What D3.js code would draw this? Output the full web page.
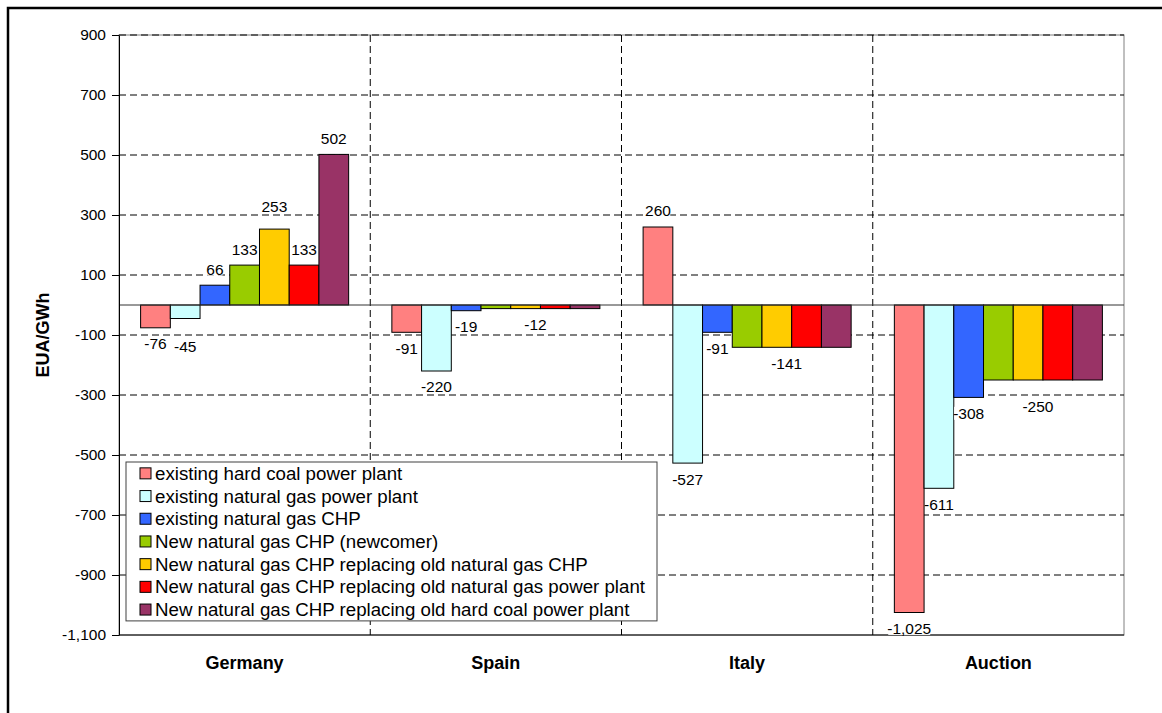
<!DOCTYPE html>
<html lang="en">
<head>
    <meta charset="UTF-8">
    <title>EUA/GWh by technology</title>
    <script src="https://d3js.org/d3.v7.min.js"></script>
    <style>
        body { margin: 0; background: #fff; }
        svg text { font-family: Arial, "Liberation Sans", sans-serif; fill: #000; }
    </style>
</head>
<body>
    <div id="chart"></div>

    <script>
        // chart data
        const categories = ["Germany", "Spain", "Italy", "Auction"];
        const seriesNames = [
            "existing hard coal power plant",
            "existing natural gas power plant",
            "existing natural gas CHP",
            "New natural gas CHP (newcomer)",
            "New natural gas CHP replacing old natural gas CHP",
            "New natural gas CHP replacing old natural gas power plant",
            "New natural gas CHP replacing old hard coal power plant"
        ];
        const seriesColors = ["#FF8080", "#CCFFFF", "#3366FF", "#99CC00", "#FFCC00", "#FF0000", "#993366"];
        const germanyValues = [-76, -45, 66, 133, 253, 133, 502];
        const spainValues = [-91, -220, -19, -12, -12, -12, -12];
        const italyValues = [260, -527, -91, -141, -141, -141, -141];
        const auctionValues = [-1025, -611, -308, -250, -250, -250, -250];
        const yTicks = [900, 700, 500, 300, 100, -100, -300, -500, -700, -900, -1100];

        const valuesByCategory = [germanyValues, spainValues, italyValues, auctionValues];

        const width = 1162, height = 713;
        const plot = { left: 119, right: 1124, top: 35, bottom: 635 };

        const fmt = d3.formatLocale({ decimal: ".", thousands: ",", grouping: [3], currency: ["", ""], minus: "-" }).format(",");

        const svg = d3.select("#chart")
            .append("svg")
            .attr("width", width)
            .attr("height", height);

        // outer frame (right/bottom edges run off the picture)
        svg.append("rect")
            .attr("x", 8).attr("y", 8)
            .attr("width", width + 20).attr("height", height + 20)
            .attr("fill", "none")
            .attr("stroke", "#000")
            .attr("stroke-width", 2.5);

        const x0 = d3.scaleBand().domain(categories).range([plot.left, plot.right]).padding(0);
        const gap = x0.bandwidth() * 0.086;
        const x1 = d3.scaleBand().domain(d3.range(seriesNames.length)).range([gap, x0.bandwidth() - gap]).padding(0);
        const y = d3.scaleLinear().domain([-1100, 900]).range([plot.bottom, plot.top]);

        // plot area border
        svg.append("rect")
            .attr("x", plot.left).attr("y", plot.top)
            .attr("width", plot.right - plot.left).attr("height", plot.bottom - plot.top)
            .attr("fill", "none")
            .attr("stroke", "#808080");

        // horizontal gridlines
        svg.append("g")
            .selectAll("line")
            .data(yTicks.filter(t => t !== -1100))
            .enter()
            .append("line")
            .attr("x1", plot.left).attr("x2", plot.right)
            .attr("y1", d => y(d)).attr("y2", d => y(d))
            .attr("stroke", "#000")
            .attr("stroke-dasharray", "7,4");

        // vertical category dividers
        svg.append("g")
            .selectAll("line")
            .data(categories.slice(1))
            .enter()
            .append("line")
            .attr("x1", d => x0(d)).attr("x2", d => x0(d))
            .attr("y1", plot.top).attr("y2", plot.bottom)
            .attr("stroke", "#000")
            .attr("stroke-dasharray", "7,4");

        // bars
        const groups = svg.append("g")
            .selectAll("g")
            .data(categories)
            .enter()
            .append("g")
            .attr("transform", d => `translate(${x0(d)},0)`);

        groups.selectAll("rect")
            .data((d, i) => valuesByCategory[i].map((v, j) => ({ v, j })))
            .enter()
            .append("rect")
            .attr("x", d => x1(d.j))
            .attr("width", x1.bandwidth())
            .attr("y", d => y(Math.max(0, d.v)))
            .attr("height", d => Math.abs(y(d.v) - y(0)))
            .attr("fill", d => seriesColors[d.j])
            .attr("stroke", "#000")
            .attr("stroke-width", 1);

        // zero line
        svg.append("line")
            .attr("x1", plot.left).attr("x2", plot.right)
            .attr("y1", y(0)).attr("y2", y(0))
            .attr("stroke", "#333");

        // axes
        const yAxis = svg.append("g")
            .attr("transform", `translate(${plot.left},0)`)
            .call(d3.axisLeft(y).tickValues(yTicks).tickFormat(fmt).tickSize(7).tickSizeOuter(0).tickPadding(6));
        yAxis.select(".domain").attr("stroke", "#000");
        yAxis.selectAll(".tick line").attr("stroke", "#000");
        yAxis.selectAll("text")
            .style("font-size", "15.5px")
            .style("font-family", "Arial, 'Liberation Sans', sans-serif");

        svg.append("line")
            .attr("x1", plot.left).attr("x2", plot.right)
            .attr("y1", plot.bottom).attr("y2", plot.bottom)
            .attr("stroke", "#000");

        svg.append("text")
            .attr("transform", `translate(43,${(plot.top + plot.bottom) / 2}) rotate(-90)`)
            .attr("text-anchor", "middle")
            .attr("dy", "0.35em")
            .style("font-size", "18px")
            .style("font-weight", "bold")
            .text("EUA/GWh");

        svg.append("g")
            .selectAll("text")
            .data(categories)
            .enter()
            .append("text")
            .attr("x", d => x0(d) + x0.bandwidth() / 2)
            .attr("y", 669)
            .attr("text-anchor", "middle")
            .style("font-size", "18px")
            .style("font-weight", "bold")
            .text(d => d);

        // value labels: the four identical new-CHP bars share one label,
        // and a label sitting on a gridline is pushed clear of it
        const gridYs = yTicks.map(t => y(t));
        const labels = [];
        categories.forEach((c, i) => {
            const vals = valuesByCategory[i];
            const tail = vals.slice(3);
            const shared = tail.every(v => v === tail[0]);
            vals.forEach((v, j) => {
                if (shared && j > 3) return;
                let cx = x0(c) + x1(j) + x1.bandwidth() / 2;
                if (shared && j === 3) cx = x0(c) + x1(3) + x1.bandwidth() * 2 - 5;
                let cy = v >= 0 ? y(v) - 16 : y(v) + 16;
                const hit = gridYs.find(g => Math.abs(g - cy) <= 4);
                if (hit !== undefined) cy = v >= 0 ? hit - 8 : hit + 12;
                labels.push({ v, cx, cy });
            });
        });

        const labelG = svg.append("g")
            .selectAll("g")
            .data(labels)
            .enter()
            .append("g");

        labelG.append("text")
            .attr("x", d => d.cx)
            .attr("y", d => d.cy)
            .attr("dy", "0.35em")
            .attr("text-anchor", "middle")
            .style("font-size", "15.5px")
            .text(d => fmt(d.v));

        // tight white box behind each label, hides gridlines under the digits
        labelG.each(function () {
            const g = d3.select(this);
            const bb = g.select("text").node().getBBox();
            g.insert("rect", "text")
                .attr("x", bb.x + 1).attr("y", bb.y + 2)
                .attr("width", Math.max(0, bb.width - 2)).attr("height", Math.max(0, bb.height - 4))
                .attr("fill", "#fff");
        });

        // legend
        const legend = { x: 126, y: 462, w: 531, row: 22.7 };
        svg.append("rect")
            .attr("x", legend.x).attr("y", legend.y)
            .attr("width", legend.w).attr("height", legend.row * seriesNames.length)
            .attr("fill", "#fff")
            .attr("stroke", "#404040");

        const items = svg.append("g")
            .selectAll("g")
            .data(seriesNames)
            .enter()
            .append("g")
            .attr("transform", (d, i) => `translate(${legend.x},${legend.y + legend.row * (i + 0.5)})`);

        items.append("rect")
            .attr("x", 14).attr("y", -5.5)
            .attr("width", 11).attr("height", 11)
            .attr("fill", (d, i) => seriesColors[i])
            .attr("stroke", "#000");

        items.append("text")
            .attr("x", 29)
            .attr("dy", "0.35em")
            .style("font-size", "18.7px")
            .text(d => d);
    </script>
</body>
</html>
